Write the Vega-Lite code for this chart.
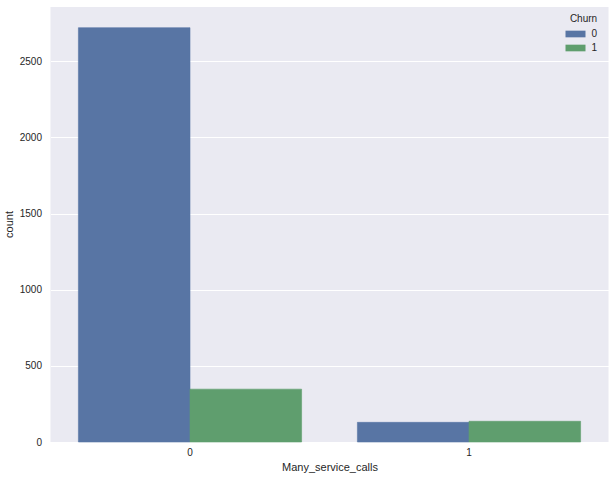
{
  "$schema": "https://vega.github.io/schema/vega-lite/v6.json",
  "autosize": {"type": "none"},
  "width": 558,
  "height": 435,
  "padding": {"left": 50.5, "top": 7, "right": 6.5, "bottom": 37},
  "background": "white",
  "data": {"values": [
    {"Many_service_calls": "0", "Churn": "0", "count": 2721},
    {"Many_service_calls": "0", "Churn": "1", "count": 347},
    {"Many_service_calls": "1", "Churn": "0", "count": 129},
    {"Many_service_calls": "1", "Churn": "1", "count": 136}
  ]},
  "config": {
    "view": {"fill": "#EAEAF2", "stroke": null},
    "font": "Liberation Sans",
    "axis": {"labelColor": "#262626", "titleColor": "#262626", "labelFontSize": 10, "titleFontSize": 11, "titleFontWeight": "normal", "domain": false, "ticks": false}
  },
  "mark": {"type": "bar", "strokeWidth": 0.6},
  "encoding": {
    "x": {"field": "Many_service_calls", "type": "nominal", "title": "Many_service_calls",
      "scale": {"paddingInner": 0.2, "paddingOuter": 0.1},
      "axis": {"labelAngle": 0, "labelPadding": 5, "grid": false, "titlePadding": 4}},
    "xOffset": {"field": "Churn", "type": "nominal", "scale": {"paddingInner": 0, "paddingOuter": 0}},
    "y": {"field": "count", "type": "quantitative", "title": "count",
      "scale": {"domain": [0, 2857], "nice": false},
      "axis": {"values": [0, 500, 1000, 1500, 2000, 2500], "format": "d", "grid": true, "gridColor": "white", "gridWidth": 1, "labelPadding": 9, "titleX": -36, "titleY": 217}},
    "stroke": {"field": "Churn", "type": "nominal",
      "scale": {"domain": ["0", "1"], "range": ["#5875A4", "#5F9E6E"]}, "legend": null},
    "color": {"field": "Churn", "type": "nominal",
      "scale": {"domain": ["0", "1"], "range": ["#5875A4", "#5F9E6E"]},
      "legend": {"orient": "none", "legendX": 519, "legendY": 7, "title": "Churn", "titleFontSize": 10, "titleFontWeight": "normal", "titleColor": "#262626", "titleAnchor": "middle", "labelFontSize": 10, "labelColor": "#262626",
        "symbolType": "M-3,-1H3V1H-3Z", "symbolSize": 44.4, "symbolStrokeWidth": 0, "symbolOpacity": 1, "labelOffset": 11, "rowPadding": 4, "padding": 0, "offset": 0}}
  }
}
